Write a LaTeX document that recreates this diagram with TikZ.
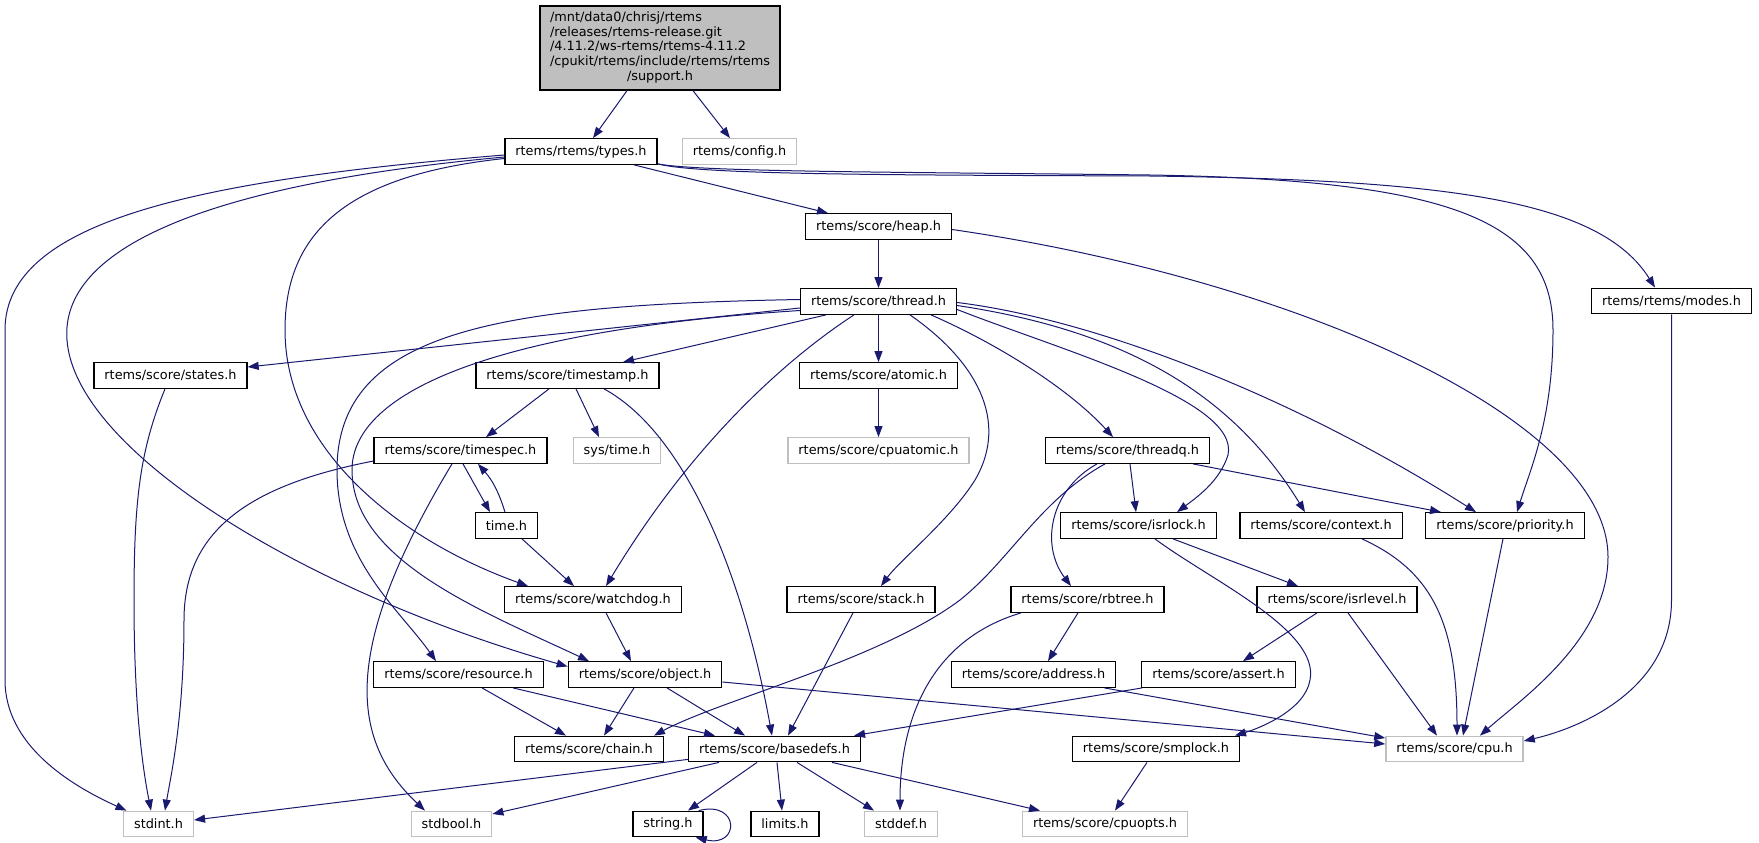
\documentclass[tikz,border=0pt]{standalone}
\usepackage{fontspec}
\newfontfamily\doxfont{DejaVu Sans}
\usetikzlibrary{arrows.meta}
\definecolor{edgeblue}{HTML}{191970}
\definecolor{extgray}{HTML}{BFBFBF}
\newcommand{\doxsize}{\doxfont\fontsize{12.85}{14.6}\selectfont}

\tikzset{
	hdr/.style={draw=black, line width=1.3pt, fill=white, font=\doxsize, inner xsep=10.5pt, inner ysep=0pt, minimum height=25.5pt},
	exthdr/.style={hdr, draw=extgray},
	inc/.style={draw=edgeblue, line width=1pt, -{Triangle[length=11pt,width=8pt]}},
}

\begin{document}
\begin{tikzpicture}[x=1pt, y=-1pt]
\path[use as bounding box, fill=white] (0,0) rectangle (1759,843);

% file nodes, row by row
\node[hdr, fill=extgray, minimum height=84pt, inner xsep=10pt] (root) at (660,48) {\begin{tabular}{@{}l@{}}/mnt/data0/chrisj/rtems\\/releases/rtems-release.git\\/4.11.2/ws-rtems/rtems-4.11.2\\/cpukit/rtems/include/rtems/rtems\\\multicolumn{1}{@{}c@{}}{/support.h}\end{tabular}};
\node[hdr] (types) at (581,151.5) {rtems/rtems/types.h};
\node[exthdr] (config) at (739.5,151.5) {rtems/config.h};
\node[hdr] (heap) at (878.5,226.5) {rtems/score/heap.h};
\node[hdr] (thread) at (878.5,301.5) {rtems/score/thread.h};
\node[hdr] (modes) at (1671.5,301) {rtems/rtems/modes.h};
\node[hdr] (states) at (170.5,375.5) {rtems/score/states.h};
\node[hdr] (timestamp) at (567.5,375.5) {rtems/score/timestamp.h};
\node[hdr] (atomic) at (878.5,375.5) {rtems/score/atomic.h};
\node[hdr] (timespec) at (460.5,450.5) {rtems/score/timespec.h};
\node[exthdr] (systime) at (617,450.5) {sys/time.h};
\node[exthdr] (cpuatomic) at (878.5,450.5) {rtems/score/cpuatomic.h};
\node[hdr] (threadq) at (1127.5,450.5) {rtems/score/threadq.h};
\node[hdr] (timeh) at (506.5,525.5) {time.h};
\node[hdr] (isrlock) at (1138.5,525.5) {rtems/score/isrlock.h};
\node[hdr] (context) at (1321,525.5) {rtems/score/context.h};
\node[hdr] (priority) at (1505,525.5) {rtems/score/priority.h};
\node[hdr] (watchdog) at (593,599.5) {rtems/score/watchdog.h};
\node[hdr] (stack) at (861,599.5) {rtems/score/stack.h};
\node[hdr] (rbtree) at (1087.5,599.5) {rtems/score/rbtree.h};
\node[hdr] (isrlevel) at (1337,599.5) {rtems/score/isrlevel.h};
\node[hdr] (resource) at (458.5,674.5) {rtems/score/resource.h};
\node[hdr] (object) at (645,674.5) {rtems/score/object.h};
\node[hdr] (address) at (1033.5,674.5) {rtems/score/address.h};
\node[hdr] (assert) at (1218.5,674.5) {rtems/score/assert.h};
\node[hdr] (chain) at (589,749) {rtems/score/chain.h};
\node[hdr] (basedefs) at (774.5,749) {rtems/score/basedefs.h};
\node[hdr] (smplock) at (1156,749) {rtems/score/smplock.h};
\node[exthdr] (cpu) at (1454.5,749) {rtems/score/cpu.h};
\node[exthdr] (stdint) at (158.5,824) {stdint.h};
\node[exthdr] (stdbool) at (451.5,824) {stdbool.h};
\node[hdr] (string) at (668,824) {string.h};
\node[hdr] (limits) at (785,824) {limits.h};
\node[exthdr] (stddef) at (901,824) {stddef.h};
\node[exthdr] (cpuopts) at (1105,824) {rtems/score/cpuopts.h};

% straight includes, south -> north
\foreach \a/\sa/\b/\sb in {root/-33/types/12, root/33/config/-9.5, types/53/heap/-50.5,
	heap/0/thread/0, thread/-52.5/timestamp/55.5, thread/0/atomic/0, atomic/0/cpuatomic/0,
	timestamp/-18.5/timespec/25.5, timestamp/8.5/systime/-18, timespec/2.5/timeh/-16.5,
	timeh/15.5/watchdog/-19, watchdog/13/object/-14, stack/-8/basedefs/13.5,
	rbtree/-9.5/address/14.5, threadq/2.5/isrlock/-2.5, threadq/65.5/priority/-64,
	isrlock/34.5/isrlevel/-39, priority/-2/cpu/8.5, isrlevel/-20/assert/24.5,
	isrlevel/11/cpu/-17.5, resource/23.5/chain/-23, resource/54.5/basedefs/-59.5,
	object/-11/chain/15, object/22/basedefs/-29.5, smplock/-9/cpuopts/10,
	basedefs/-17.5/string/20, basedefs/2.5/limits/-3, basedefs/22.5/stddef/-27,
	basedefs/57.5/cpuopts/-65}{
	\draw[inc] ([xshift=\sa pt]\a.south) -- ([xshift=\sb pt]\b.north);
	}

% types.h
\draw[inc] ([yshift=-3.5pt]types.west) .. controls (200,180) and (5,220) .. (5,330) -- (5,680) .. controls (5,745) and (70,785) .. ([xshift=-32pt]stdint.north);
\draw[inc] ([yshift=-5.5pt]types.west) .. controls (200,185) and (60,250) .. (67,340) .. controls (75,450) and (300,590) .. ([yshift=8pt]object.west);
\draw[inc] ([yshift=-7pt]types.west) .. controls (350,175) and (285,230) .. (285,330) .. controls (285,450) and (400,540) .. ([xshift=-65pt]watchdog.north);
\draw[inc] ([yshift=1pt]types.south east) .. controls (700,172) and (900,172) .. (1150,175) .. controls (1450,180) and (1553,220) .. (1553,330) .. controls (1553,420) and (1530,470) .. ([xshift=12pt]priority.north);
\draw[inc] ([yshift=1pt]types.south east) .. controls (700,175) and (900,175) .. (1150,176) .. controls (1450,180) and (1600,200) .. ([xshift=-16.5pt]modes.north);

% heap.h and modes.h
\draw[inc] ([yshift=-3pt]heap.east) .. controls (1300,280) and (1608,420) .. (1608,557) .. controls (1608,640) and (1520,700) .. ([xshift=25.5pt]cpu.north);
\draw[inc] (modes.south) -- (1671.5,600) .. controls (1671.5,690) and (1580,728) .. ([yshift=8pt]cpu.east);

% thread.h
\draw[inc] ([yshift=-6.5pt]thread.west) -- ([yshift=8.5pt]states.east);
\draw[inc] ([yshift=2pt]thread.west) .. controls (500,305) and (337,330) .. (337,470) .. controls (337,560) and (400,610) .. ([xshift=-22.5pt]resource.north);
\draw[inc] ([yshift=-9pt]thread.west) .. controls (500,330) and (352,390) .. (352,470) .. controls (352,560) and (480,610) .. ([xshift=-56pt]object.north);
\draw[inc] ([xshift=-24.5pt]thread.south) .. controls (800,350) and (700,430) .. ([xshift=13pt]watchdog.north);
\draw[inc] ([xshift=31.5pt]thread.south) .. controls (975,360) and (1010,420) .. (975,480) .. controls (950,520) and (900,560) .. ([xshift=20pt]stack.north);
\draw[inc] ([xshift=52.5pt]thread.south) .. controls (1000,345) and (1070,390) .. ([xshift=-14.5pt]threadq.north);
\draw[inc] ([yshift=-8pt]thread.east) .. controls (1060,350) and (1240,400) .. (1228,455) .. controls (1220,480) and (1200,495) .. ([xshift=38.5pt]isrlock.north);
\draw[inc] ([yshift=-4pt]thread.east) .. controls (1120,330) and (1230,390) .. ([xshift=-16pt]context.north);
\draw[inc] ([yshift=-1pt]thread.east) .. controls (1100,320) and (1300,400) .. ([xshift=-29pt]priority.north);

% timestamp.h, timespec.h, time.h, states.h
\draw[inc] ([xshift=36.5pt]timestamp.south) .. controls (680,430) and (740,560) .. ([xshift=-2.5pt]basedefs.north);
\draw[inc] ([yshift=-10.5pt]timespec.west) .. controls (250,485) and (184,530) .. (184,620) .. controls (184,720) and (170,780) .. ([xshift=6.5pt]stdint.north);
\draw[inc] ([xshift=-8.5pt]timespec.south) .. controls (340,650) and (350,740) .. ([xshift=-26.5pt]stdbool.north);
\draw[inc] ([xshift=-1.5pt]timeh.north) to[bend right=12] ([xshift=17.5pt]timespec.south);
\draw[inc] ([xshift=-5.5pt]states.south) .. controls (140,450) and (134,500) .. (134,600) .. controls (134,720) and (145,780) .. ([xshift=-7.5pt]stdint.north);

% threadq.h, rbtree.h, isrlock.h, context.h
\draw[inc] ([xshift=-30.5pt]threadq.south) .. controls (1050,490) and (1040,545) .. ([xshift=-16.5pt]rbtree.north);
\draw[inc] ([xshift=-22.5pt]threadq.south) .. controls (1040,500) and (1010,560) .. (960,600) .. controls (880,660) and (720,700) .. ([xshift=-10pt]chain.north east);
\draw[inc] ([xshift=-66.5pt]rbtree.south) .. controls (930,640) and (900,720) .. ([xshift=-1pt]stddef.north);
\draw[inc] ([xshift=16.5pt]isrlock.south) .. controls (1210,580) and (1320,630) .. (1310,680) .. controls (1305,710) and (1260,728) .. ([xshift=79pt]smplock.north);
\draw[inc] ([xshift=41pt]context.south) .. controls (1430,570) and (1457,620) .. ([xshift=2.5pt]cpu.north);

% object.h, address.h, assert.h, basedefs.h
\draw[inc] ([yshift=-7.5pt]object.east) -- ([yshift=5pt]cpu.west);
\draw[inc] ([xshift=-12pt]address.south east) -- ([yshift=11pt]cpu.west);
\draw[inc] ([xshift=1pt]assert.south west) -- ([xshift=-7pt]basedefs.north east);
\draw[inc] ([yshift=3pt]basedefs.south west) -- ([yshift=4pt]stdint.east);
\draw[inc] ([xshift=-55.5pt]basedefs.south) -- ([yshift=10pt]stdbool.east);
\draw[inc] ([xshift=-5pt]string.north east) .. controls (740,800) and (740,848) .. ([xshift=-8pt]string.south east);
\end{tikzpicture}
\end{document}
